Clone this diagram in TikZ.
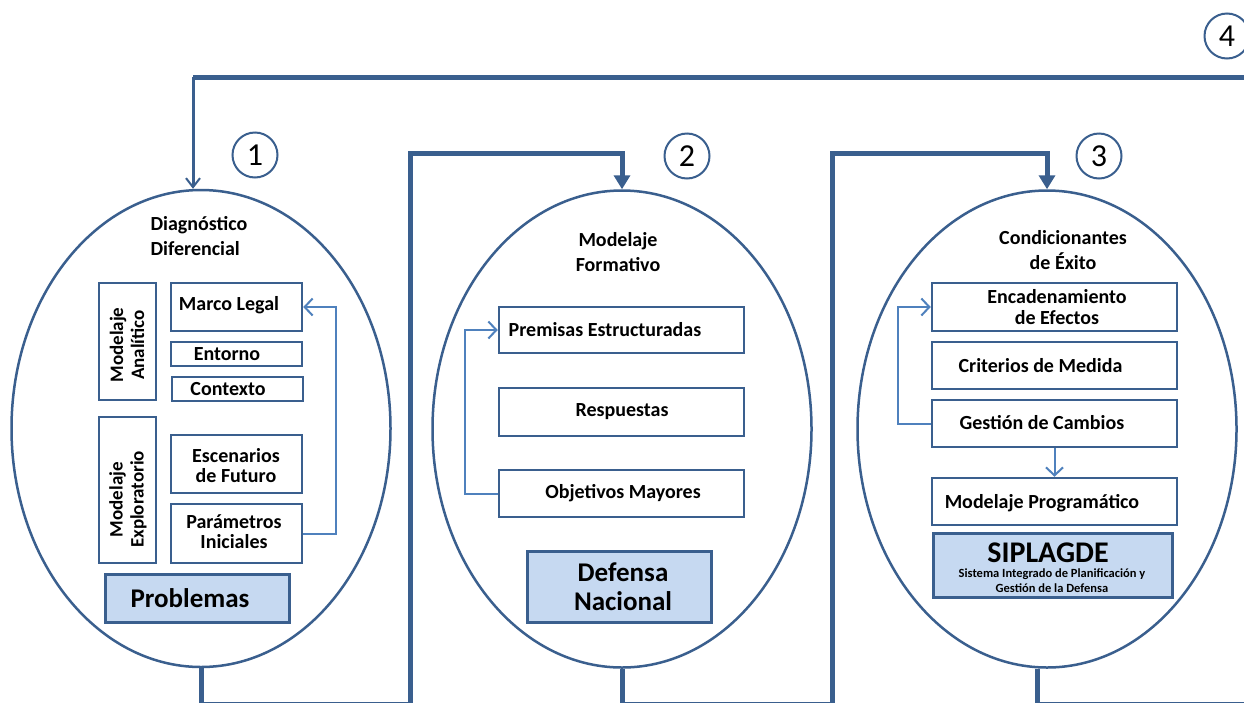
\documentclass[tikz,border=0pt]{standalone}
\usepackage{fontspec}
\setmainfont{Carlito}
\usetikzlibrary{arrows.meta,shapes.geometric,calc}
\definecolor{dk}{HTML}{3A5F8E}
\definecolor{lt}{HTML}{4F81BD}
\definecolor{fl}{HTML}{C6D9F1}
\begin{document}
\begin{tikzpicture}[x=1pt,y=-1pt,
  ell/.style={draw=dk,line width=2.5pt,ellipse,minimum width=379pt,minimum height=477pt,inner sep=0pt},
  bx/.style={draw=dk,line width=2.5pt,rectangle,inner sep=0pt,fill=white},
  fbx/.style={draw=dk,line width=3pt,rectangle,inner sep=0pt,fill=fl},
  txt/.style={font=\bfseries\fontsize{20}{25}\selectfont,align=center,inner sep=0pt},
  conn/.style={draw=dk,line width=5pt},
  sm/.style={draw=lt,line width=2pt,-{Straight Barb[length=8pt,width=17pt,line width=2pt]}},
  num/.style={draw=dk,line width=2pt,circle,minimum size=45pt,inner sep=0pt,font=\fontsize{32}{32}\selectfont}
]
\useasboundingbox (0,0) rectangle (1244,702);
\clip (0,0) rectangle (1244,702);
\fill[white] (0,0) rectangle (1244,702);

% ellipses
\node[ell] (e1) at (201,428.5) {};
\node[ell] (e2) at (622,429) {};
\node[ell] (e3) at (1047,429) {};

% numbers
\node[num] (n1) at (255,155) {1};
\node[num] (n2) at (687,156) {2};
\node[num] (n3) at (1099,156) {3};
\node[num] (n4) at (1227,36) {4};

% ---------- ellipse 1 ----------
\node[txt,align=left] (t1) at (199,236) {Diagnóstico\\Diferencial};
\node[bx,minimum width=57pt,minimum height=117pt] (ma) at (127.5,341.5) {};
\node[txt,rotate=90,font=\bfseries\fontsize{19}{21}\selectfont] (mat) at (127,345) {Modelaje\\Analítico};
\node[bx,minimum width=131pt,minimum height=48pt] (ml) at (236.5,307) {};
\node[txt] (mlt) at (229,305) {Marco Legal};
\node[bx,minimum width=131pt,minimum height=24pt] (en1) at (236.5,354) {};
\node[txt] (en1t) at (227,354) {Entorno};
\node[bx,minimum width=131pt,minimum height=24pt] (co) at (237.5,389) {};
\node[txt] (cot) at (228,389) {Contexto};
\node[bx,minimum width=57pt,minimum height=146pt] (me) at (127.5,490) {};
\node[txt,rotate=90,font=\bfseries\fontsize{19}{21}\selectfont] (met) at (128,499.5) {Modelaje\\Exploratorio};
\node[bx,minimum width=131pt,minimum height=58pt] (es) at (236.5,464) {};
\node[txt,font=\bfseries\fontsize{20}{20}\selectfont] (est) at (236,466) {Escenarios\\de Futuro};
\node[bx,minimum width=131pt,minimum height=59pt] (pi) at (236.5,533.5) {};
\node[txt,font=\bfseries\fontsize{20}{20}\selectfont] (pit) at (234,532) {Parámetros\\Iniciales};
\node[fbx,minimum width=184pt,minimum height=48pt] (pb) at (197,598) {};
\node[txt,font=\bfseries\fontsize{27}{30}\selectfont] (pbt) at (190,598) {Problemas};
\draw[sm] (pi.east) -- ++(33,0) |- (ml.east);

% ---------- ellipse 2 ----------
\node[txt] (t2) at (618,252) {Modelaje\\Formativo};
\node[bx,minimum width=245pt,minimum height=46pt] (pr) at (621.5,330) {};
\node[txt] (prt) at (605,330) {Premisas Estructuradas};
\node[bx,minimum width=245pt,minimum height=48pt] (re) at (621.5,412) {};
\node[txt] (ret) at (622,412) {Respuestas};
\node[bx,minimum width=245pt,minimum height=47pt] (ob) at (621.5,493.5) {};
\node[txt] (obt) at (623,493) {Objetivos Mayores};
\node[fbx,minimum width=184pt,minimum height=71pt] (dn) at (619,586.5) {};
\node[txt,font=\bfseries\fontsize{27}{29}\selectfont] (dnt) at (623,587) {Defensa\\Nacional};
\draw[sm] (ob.west) -- ++(-33,0) |- (pr.west);

% ---------- ellipse 3 ----------
\node[txt] (t3) at (1063,250) {Condicionantes\\de Éxito};
\node[bx,minimum width=245pt,minimum height=48pt] (ec) at (1054.5,307) {};
\node[txt,font=\bfseries\fontsize{20}{21}\selectfont] (ect) at (1057,307) {Encadenamiento\\de Efectos};
\node[bx,minimum width=245pt,minimum height=47pt] (cm) at (1054.5,365.5) {};
\node[txt] (cmt) at (1040.5,366) {Criterios de Medida};
\node[bx,minimum width=245pt,minimum height=47pt] (gc) at (1054.5,423.5) {};
\node[txt] (gct) at (1042,423) {Gestión de Cambios};
\node[bx,minimum width=245pt,minimum height=47pt] (mp) at (1054.5,501.5) {};
\node[txt] (mpt) at (1042,503) {Modelaje Programático};
\node[fbx,minimum width=239pt,minimum height=64pt] (sp) at (1052.5,565) {};
\node[txt,font=\bfseries\fontsize{30}{30}\selectfont] (spt) at (1048,553) {SIPLAGDE};
\node[txt,font=\bfseries\fontsize{12.5}{15}\selectfont] (sps) at (1052,581) {Sistema Integrado de Planificación y\\Gestión de la Defensa};
\draw[sm] (gc.west) -- ++(-33,0) |- (ec.west);
\draw[sm] (gc.south) -- (mp.north);

% ---------- main connectors ----------
\draw[conn,-{Triangle[length=14pt,width=16pt]}] (e1.south) -- (e1.south |- 0,704) -| (410,153) -| (e2.north);
\draw[conn,-{Triangle[length=14pt,width=16pt]}] (e2.south) -- (e2.south |- 0,704) -| (832,153) -| (e3.north);
\coordinate (b3) at ($(e3.south)+(-10,0)$);
\coordinate (c4) at (193,77);
\draw[conn] (b3) -- (b3 |- 0,704) -| (1262,77) -- (c4);
\draw[draw=dk,line width=3pt,-{Straight Barb[length=9pt,width=14pt,line width=2pt]}] (c4) -- (c4 |- e1.north);
\end{tikzpicture}
\end{document}
